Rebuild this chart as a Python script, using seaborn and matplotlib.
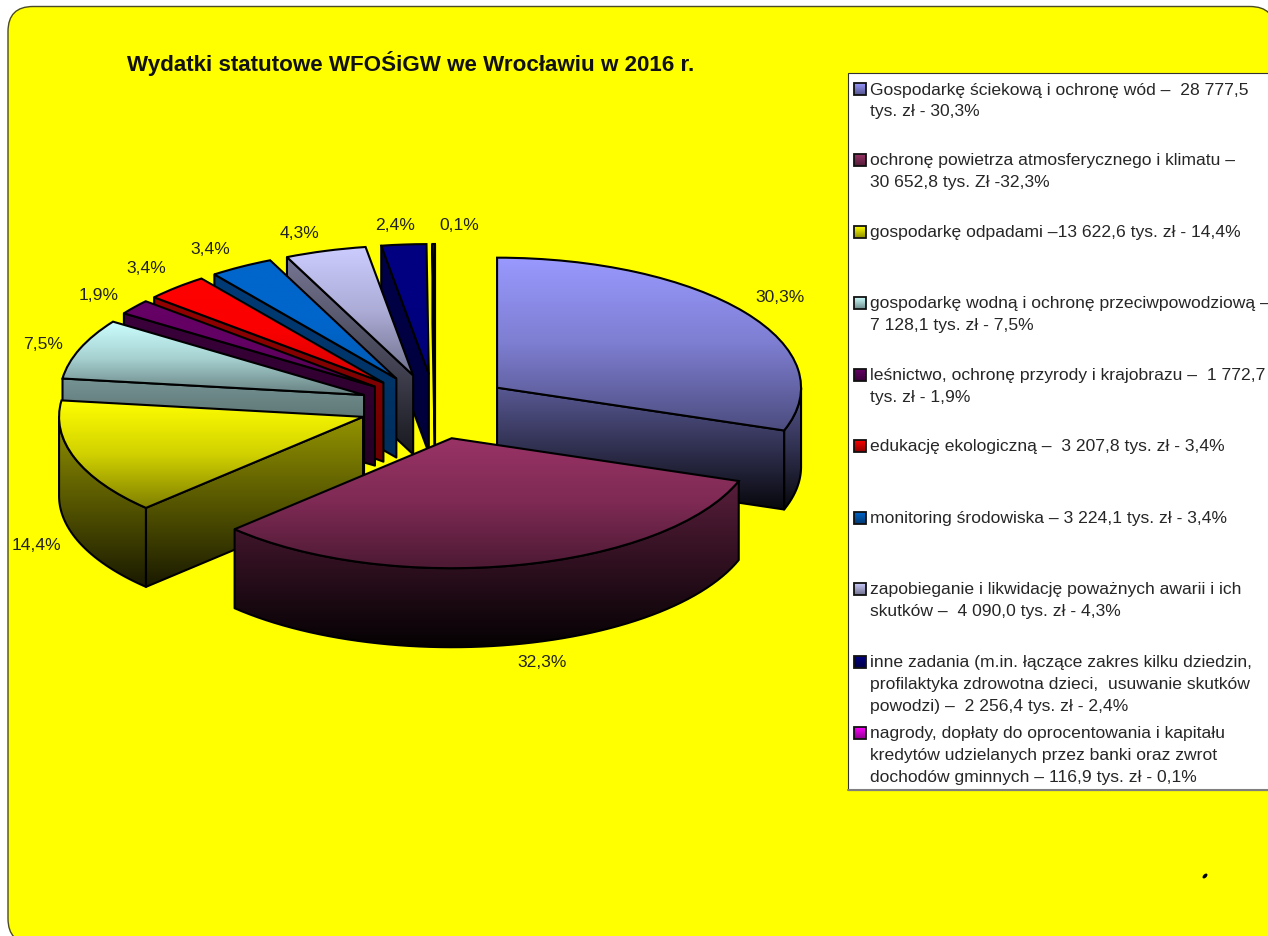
import numpy as np
import seaborn as sns
import matplotlib
matplotlib.use('Agg')
import matplotlib.pyplot as plt
from matplotlib.colors import to_rgb
from matplotlib.patches import FancyBboxPatch, Polygon, Rectangle, Ellipse

sns.set_style('white')
plt.rcParams['font.family'] = ['Liberation Sans', 'DejaVu Sans']

title = 'Wydatki statutowe WFOŚiGW we Wrocławiu w 2016 r.'
values = [28777.5, 30652.8, 13622.6, 7128.1, 1772.7, 3207.8, 3224.1, 4090.0, 2256.4, 116.9]
pct_labels = ['30,3%', '32,3%', '14,4%', '7,5%', '1,9%', '3,4%', '3,4%', '4,3%', '2,4%', '0,1%']
colors = ['#9999FF', '#993366', '#FFFF00', '#CCFFFF', '#660066',
          '#FF0000', '#0066CC', '#CCCCFF', '#000080', '#FF00FF']
legend_lines = [
    ['Gospodarkę ściekową i ochronę wód –  28 777,5', 'tys. zł - 30,3%'],
    ['ochronę powietrza atmosferycznego i klimatu –', '30 652,8 tys. Zł -32,3%'],
    ['gospodarkę odpadami –13 622,6 tys. zł - 14,4%'],
    ['gospodarkę wodną i ochronę przeciwpowodziową –', '7 128,1 tys. zł - 7,5%'],
    ['leśnictwo, ochronę przyrody i krajobrazu –  1 772,7', 'tys. zł - 1,9%'],
    ['edukację ekologiczną –  3 207,8 tys. zł - 3,4%'],
    ['monitoring środowiska – 3 224,1 tys. zł - 3,4%'],
    ['zapobieganie i likwidację poważnych awarii i ich', 'skutków –  4 090,0 tys. zł - 4,3%'],
    ['inne zadania (m.in. łączące zakres kilku dziedzin,', 'profilaktyka zdrowotna dzieci,  usuwanie skutków',
     'powodzi) –  2 256,4 tys. zł - 2,4%'],
    ['nagrody, dopłaty do oprocentowania i kapitału', 'kredytów udzielanych przez banki oraz zwrot',
     'dochodów gminnych – 116,9 tys. zł - 0,1%'],
]

# how dark each slice gets at the low end of its gradient
top_dark = [0.5, 0.5, 0.5, 0.5, 0.8, 0.82, 0.88, 0.55, 0.92, 1.0]
side_dark = [0.05, 0.03, 0.1, 0.3, 0.35, 0.42, 0.45, 0.12, 0.45, 0.5]

# layout in pixels of the 1268x937 picture
W, H = 1268, 937
label_pos = [(780, 298), (542, 663), (36, 546), (43, 345), (99, 296),
             (146, 269), (210, 250), (300, 233), (395, 225), (459, 225)]
legend_y = [90, 161, 233, 304, 376, 447, 519, 590, 663, 734]
line_h = 21.7
cx, cy = 435.1, 407.5
rx, ry = 304, 130
depth = 79 / ry


def shade(c, f):
    return tuple(v * f for v in to_rgb(c))


def gradient(ax, clip, cmap, ylo, yhi, z):
    xs = clip.get_path().vertices[:, 0]
    im = ax.imshow(np.linspace(0, 1, 256)[:, None], extent=(xs.min(), xs.max(), ylo, yhi),
                   cmap=cmap, vmin=0, vmax=1, aspect='auto', zorder=z)
    im.set_clip_path(clip)


fig = plt.figure(figsize=(W / 100, H / 100), dpi=100)

# background sheet, legend box and all texts
bg = fig.add_axes([0, 0, 1, 1], zorder=0)
bg.set_xlim(0, W)
bg.set_ylim(H, 0)
bg.axis('off')
bg.add_patch(FancyBboxPatch((33, 32.5), 1217, 887, boxstyle='round,pad=25,rounding_size=25',
                            fc='#FFFF00', ec='#4a4a28', lw=1.0))
bg.text(127, 64, title, fontsize=16.1, fontweight='bold', color='#111111', va='center', ha='left')
for lab, (x, y) in zip(pct_labels, label_pos):
    bg.text(x, y, lab, fontsize=12.6, color='#222222', ha='center', va='center')

bg.add_patch(Rectangle((848, 74), W, 716.5, fc='white', ec='#333333', lw=0.8))
bg.plot([848, W], [790.5, 790.5], color='#808080', lw=1.5)
for lines, y, c in zip(legend_lines, legend_y, colors):
    bg.imshow(np.linspace(0, 1, 64)[:, None], extent=(854, 866, y + 6, y - 6), aspect='auto', zorder=3,
              cmap=sns.blend_palette([c, shade(c, 0.55)], as_cmap=True), vmin=0, vmax=1)
    bg.add_patch(Rectangle((854, y - 6), 12, 12, fc='none', ec='#111111', lw=1.3, zorder=4))
    for k, line in enumerate(lines):
        bg.text(870, y + k * line_h, line, fontsize=12.6, color='#262626', ha='left', va='center')
bg.set_xlim(0, W)
bg.set_ylim(H, 0)
bg.add_patch(Ellipse((1205, 877), 6, 3.5, angle=-45, fc='black', ec='none'))

# pie axes: one data unit is the radius along each axis, so the pie lies flat
ax = fig.add_axes([0, 0, 1, 1], zorder=1)
wedges, _ = ax.pie(values, explode=[0.25] * len(values), startangle=90, counterclock=False,
                   colors=colors, wedgeprops={'edgecolor': 'black', 'linewidth': 1.5})
ax.set_aspect('auto')
ax.patch.set_alpha(0)

order = sorted(range(len(values)), key=lambda i: wedges[i].center[1], reverse=True)
for rank, i in enumerate(order):
    w = wedges[i]
    c = colors[i]
    x0, y0 = w.center
    z = 10 + rank * 5

    # outer wall and the radial faces that look to the viewer
    sides = []
    a0, a1 = max(w.theta1, -180), min(w.theta2, 0)
    if a1 > a0:
        t = np.radians(np.linspace(a0, a1, 60))
        top = np.column_stack([x0 + np.cos(t), y0 + np.sin(t)])
        sides.append(np.vstack([top, (top - [0, depth])[::-1]]))
    for ang, seen in ((w.theta1, np.cos(np.radians(w.theta1)) > 0), (w.theta2, np.cos(np.radians(w.theta2)) < 0)):
        if seen:
            px, py = x0 + np.cos(np.radians(ang)), y0 + np.sin(np.radians(ang))
            sides.append(np.array([[x0, y0], [px, py], [px, py - depth], [x0, y0 - depth]]))
    if sides:
        yhi = max(s[:, 1].max() for s in sides)
        ylo = min(s[:, 1].min() for s in sides)
        cmap = sns.blend_palette([shade(c, 0.58), shade(c, side_dark[i])], as_cmap=True)
        for s in sides:
            poly = Polygon(s, closed=True, fc='none', ec='black', lw=1.5, zorder=z + 1, joinstyle='round')
            ax.add_patch(poly)
            gradient(ax, poly, cmap, ylo, yhi, z)

    # top surface
    ext = w.get_path().get_extents()
    w.set_facecolor('none')
    w.set_zorder(z + 3)
    mid = (1 + top_dark[i]) / 2 + 0.07
    cmap = sns.blend_palette([c, shade(c, min(mid, 1)), shade(c, top_dark[i])], as_cmap=True)
    gradient(ax, w, cmap, ext.y0, ext.y1, z + 2)

ax.set_xlim(-cx / rx, (W - cx) / rx)
ax.set_ylim((cy - H) / ry, cy / ry)
ax.axis('off')

fig.savefig('out.png', dpi=100)
